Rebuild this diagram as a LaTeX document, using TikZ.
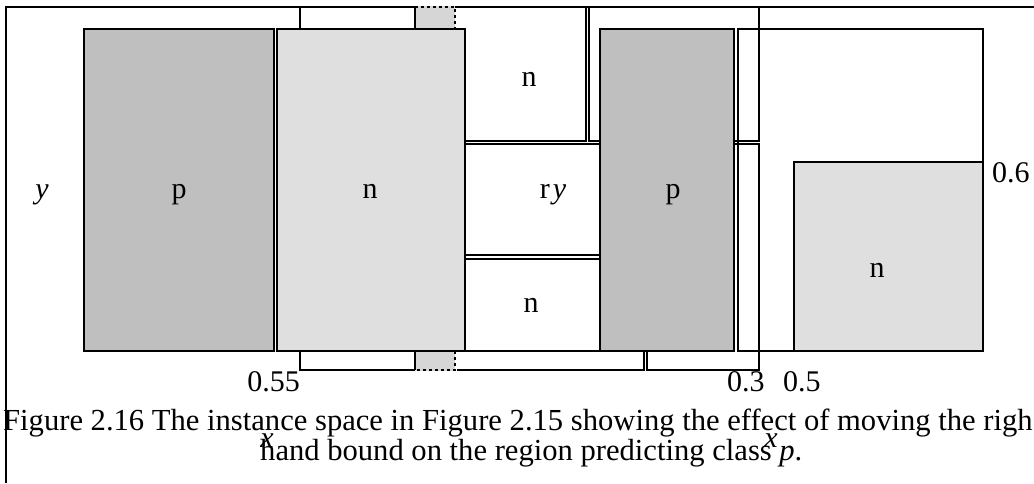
\documentclass[tikz,border=0pt]{standalone}
\usepackage{fontspec}
\setmainfont{Liberation Serif}
\definecolor{cellDark}{HTML}{BFBFBF}
\definecolor{cellLight}{HTML}{DFDFDF}
\definecolor{cellDash}{HTML}{D6D6D6}
\begin{document}
\begin{tikzpicture}[x=1pt,y=-1pt,
  edge/.style={draw=black,line width=2.6pt},
  darkcell/.style={edge,fill=cellDark},
  lightcell/.style={edge,fill=cellLight},
  dashbox/.style={draw=black,line width=1.8pt,dash pattern=on 3pt off 3pt},
  lbl/.style={anchor=base,inner sep=0pt,font=\fontsize{30}{36}\selectfont},
  captext/.style={anchor=base west,inner sep=0pt,font=\fontsize{30.6}{36}\selectfont}]
\useasboundingbox (0,0) rectangle (1034,483);

% outer frame (left and top sides)
\draw[line width=2.4pt] (6,483) -- (6,7) -- (1034,7);

% strip behind the left n region
\filldraw[edge,fill=white] (300,7) rectangle (415,370);
\fill[cellDash] (415,5.6) rectangle (455,371);
\draw[dashbox] (415,7) -- (455,7) -- (455,370) -- (415,370);
\draw[edge] (415,7) -- (415,370);

% lower boundary strip and right-hand bound
\draw[edge] (457,370) -- (644,370) -- (644,351);
\draw[edge] (647,144) rectangle (759,370);
\draw[edge] (589,7) rectangle (759,141);

% middle column
\draw[edge] (465,141) -- (586,141) -- (586,7);
\draw[edge] (465,144) rectangle (600,255);
\draw[edge] (465,259) rectangle (600,351);

% class regions
\draw[darkcell] (84,29) rectangle (274,351);
\draw[lightcell] (277,29) rectangle (465,351);
\draw[darkcell] (600,29) rectangle (734,351);
\draw[edge] (738,29) rectangle (983,351);
\draw[lightcell] (794,162) rectangle (983,351);

% region labels
\node[lbl] (ylab) at (42,198) {\textit{y}};
\node[lbl] (pleft) at (179,198) {p};
\node[lbl] (nleft) at (370,198) {n};
\node[lbl] (ntop) at (529,86) {n};
\node[lbl] (rymid) at (553,198) {r\hspace{3pt}\textit{y}};
\node[lbl] (nbot) at (531,312) {n};
\node[lbl] (pright) at (673,198) {p};
\node[lbl] (nright) at (877,277) {n};

% bound values
\node[lbl,anchor=base east] (v055) at (300,391) {0.55};
\node[lbl,anchor=base west] (v03) at (727,391) {0.3};
\node[lbl,anchor=base west] (v05) at (783,391) {0.5};
\node[lbl,anchor=base west] (v06) at (992,182) {0.6};

% caption
\node[captext] (capA) at (3,430) {Figure 2.16 The instance space in Figure 2.15 showing the effect of moving the righ};
\node[captext] (capB) at (260,460) {hand bound on the region predicting class \textit{p}.};
\node[lbl] (xa) at (267,447) {\textit{x}};
\node[lbl] (xb) at (771,447) {\textit{x}};
\end{tikzpicture}
\end{document}
